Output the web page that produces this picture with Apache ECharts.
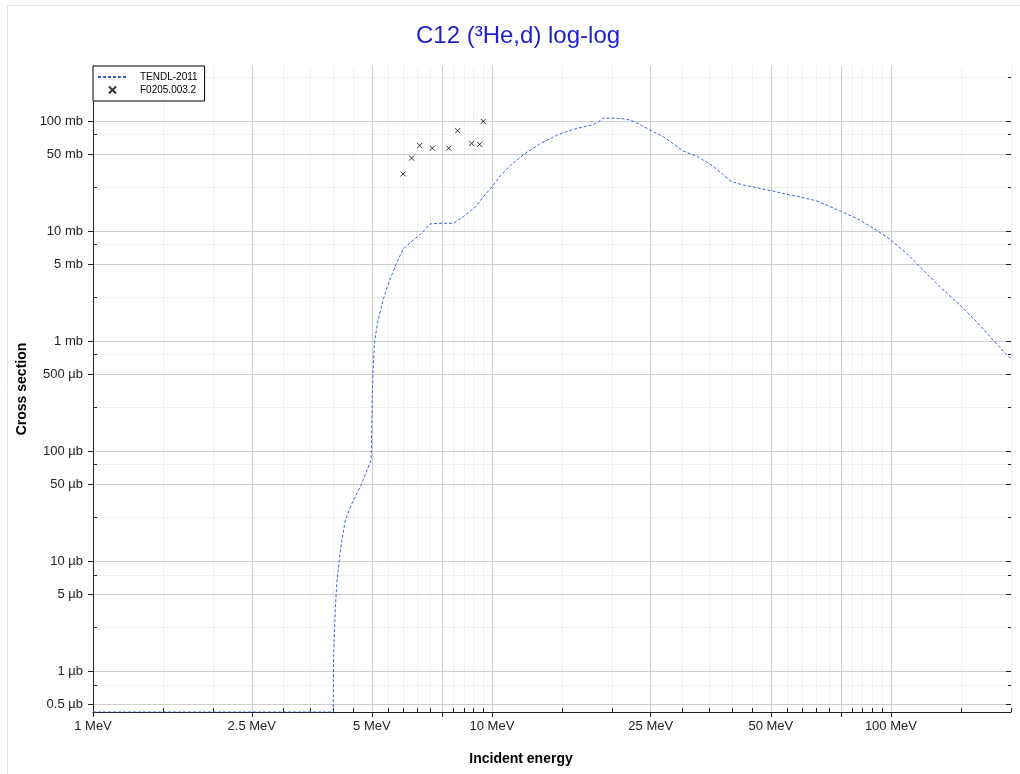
<!DOCTYPE html>
<html><head><meta charset="utf-8">
<script src="https://cdn.jsdelivr.net/npm/echarts@6/dist/echarts.min.js"></script>
<style>html,body{margin:0;padding:0;background:#fff}#c{width:1020px;height:774px}</style>
</head><body><div id="c"></div>
<script>
// TENDL-2011 evaluation: incident energy (MeV) and cross section (mb); 0 = below plotted range
const tendlEnergy = [1.0, 4.0, 4.01, 4.05, 4.09, 4.17, 4.29, 4.46, 4.72, 4.98, 5.01, 5.03, 5.08, 5.18, 5.33, 5.54, 5.76, 5.99, 6.35, 6.66, 6.99, 7.41, 8.01, 8.48, 9.08, 9.53, 10.0, 10.5, 11.1, 12.0, 13.2, 14.5, 16.0, 18.0, 18.5, 19.0, 20.2, 21.3, 22.2, 23.5, 24.9, 26.9, 30.2, 32.6, 35.8, 38.0, 39.8, 42.6, 46.0, 50.0, 54.7, 60.3, 65.1, 70.3, 75.2, 82.0, 90.4, 99.5, 109.5, 120.6, 132.9, 149.1, 164.2, 180.8, 197.2, 200.0];
const tendlXs = [0, 0, 0.00135, 0.0038, 0.0067, 0.0126, 0.0236, 0.0335, 0.0508, 0.083, 0.284, 0.5, 1.0, 1.53, 2.34, 3.56, 5.06, 6.85, 8.27, 9.5, 11.6, 11.75, 11.75, 13.5, 16.5, 20.6, 25.1, 31.8, 39.3, 49.5, 62, 74, 83.9, 93.2, 98, 106, 106, 105, 102, 93.2, 82.7, 71.9, 53.2, 47.9, 39.0, 32.4, 28.2, 26.2, 24.8, 23.3, 21.6, 20.1, 18.8, 16.7, 15.0, 13.05, 10.6, 8.4, 6.26, 4.41, 3.1, 2.11, 1.49, 1.01, 0.72, 0.70];
// EXFOR F0205.003.2
const expEnergy = [5.99, 6.29, 6.59, 7.09, 7.79, 8.2, 8.9, 9.31, 9.51];
const expXs = [33, 46, 59.8, 56.6, 56.6, 81.6, 62.5, 61.3, 99.3];

// axis ticks (MeV / mb)
const xLabelValues = [1, 2.5, 5, 10, 25, 50, 100];
const xMajorTicks = [1, 2.5, 5, 7.5, 10, 25, 50, 75, 100];
const xMinorMultipliers = [1, 1.5, 2, 2.5, 3, 3.5, 4, 4.5, 5, 5.5, 6, 6.5, 7, 7.5, 8, 8.5, 9, 9.5];
const xDecades = [1, 10, 100];
const yLabelValues = [0.0005, 0.001, 0.005, 0.01, 0.05, 0.1, 0.5, 1, 5, 10, 50, 100];
const yMinorMultipliers = [1, 2.5, 5, 7.5];
const yDecades = [0.0001, 0.001, 0.01, 0.1, 1, 10, 100];

const X_MIN_E = 1, X_MAX_E = 200;
const Y_MIN_XS = 0.000424, Y_MAX_XS = 316.2;

const L = Math.log10;
const xMin = L(X_MIN_E), xMax = L(X_MAX_E), yMin = L(Y_MIN_XS), yMax = L(Y_MAX_XS);
const xMinor = [];
xDecades.forEach(d => xMinorMultipliers.forEach(m => { const v = d * m; if (v <= X_MAX_E) xMinor.push(L(v)); }));
xMinor.push(L(200));
const yMinor = [];
yDecades.forEach(d => yMinorMultipliers.forEach(m => { const v = d * m; if (v >= Y_MIN_XS && v <= Y_MAX_XS) yMinor.push(L(v)); }));

const FONT = 'Liberation Sans, Arial, sans-serif';
const fmtX = v => parseFloat(Math.pow(10, v).toPrecision(3)) + ' MeV';
const fmtY = v => { const s = Math.pow(10, v); return s >= 0.999 ? parseFloat(s.toPrecision(3)) + ' mb' : parseFloat((s * 1000).toPrecision(3)) + ' µb'; };

const lineData = tendlEnergy.map((e, i) => [L(e), tendlXs[i] > 0 ? L(tendlXs[i]) : yMin]);
const expData = expEnergy.map((e, i) => [L(e), L(expXs[i])]);

const AX = '#222';
const gridBox = { left: 93, right: 9, top: 66, bottom: 62 };
const chart = echarts.init(document.getElementById('c'), null, { renderer: 'canvas' });
chart.setOption({
  animation: false,
  textStyle: { fontFamily: FONT },
  title: { text: 'C12 (³He,d) log-log', left: 411, top: 19,
    textStyle: { color: '#1f1fcc', fontSize: 24, fontWeight: 'normal', fontFamily: FONT } },
  graphic: [{ type: 'rect', shape: { x: 7.5, y: 5.5, width: 1030, height: 800 }, style: { fill: 'none', stroke: '#e4e4e4', lineWidth: 1 }, silent: true, z: -10 }],
  grid: [Object.assign({}, gridBox), Object.assign({}, gridBox)],
  legend: {
    left: 93, top: 66, orient: 'vertical', backgroundColor: '#fff', borderColor: '#000', borderWidth: 1,
    padding: [6, 7, 5, 4], itemWidth: 29, itemHeight: 7, itemGap: 2,
    textStyle: { fontSize: 10, color: '#000', fontFamily: FONT, padding: [0, 0, 0, 8] },
    data: ['TENDL-2011', 'F0205.003.2']
  },
  xAxis: [
    { gridIndex: 0, type: 'value', min: xMin, max: xMax, z: 1, position: 'bottom',
      name: 'Incident energy', nameLocation: 'middle', nameGap: 40,
      nameTextStyle: { fontWeight: 'bold', fontSize: 14, color: '#000', padding: [0, 62, 0, 0] },
      axisLine: { onZero: false, lineStyle: { color: AX, width: 1 } },
      axisTick: { customValues: xMajorTicks.map(L), length: 5, lineStyle: { color: AX } },
      axisLabel: { customValues: xLabelValues.map(L), formatter: fmtX, fontSize: 13, color: AX, margin: 8 },
      splitLine: { show: true, lineStyle: { color: '#cdcdcd', width: 1 } } },
    { gridIndex: 1, type: 'value', min: xMin, max: xMax, z: 0, position: 'bottom',
      axisLine: { show: false, onZero: false },
      axisTick: { customValues: xMinor, inside: true, length: 4, lineStyle: { color: AX } },
      axisLabel: { show: false },
      splitLine: { show: true, lineStyle: { color: '#efefef', width: 1 } } }
  ],
  yAxis: [
    { gridIndex: 0, type: 'value', min: yMin, max: yMax, z: 1, position: 'left',
      name: 'Cross section', nameLocation: 'middle', nameGap: 56,
      nameTextStyle: { fontWeight: 'bold', fontSize: 14, color: '#000' },
      axisLine: { show: true, onZero: false, lineStyle: { color: AX, width: 1 } },
      axisTick: { show: true, customValues: yLabelValues.map(L), length: 5, lineStyle: { color: AX } },
      axisLabel: { customValues: yLabelValues.map(L), formatter: fmtY, fontSize: 13, color: AX, margin: 10 },
      splitLine: { show: true, lineStyle: { color: '#cdcdcd', width: 1 } } },
    { gridIndex: 1, type: 'value', min: yMin, max: yMax, z: 0, position: 'left',
      axisLine: { show: false, onZero: false },
      axisTick: { show: true, customValues: yMinor, inside: true, length: 4, lineStyle: { color: AX } },
      axisLabel: { show: false },
      splitLine: { show: true, lineStyle: { color: '#efefef', width: 1 } } },
    { gridIndex: 0, type: 'value', min: yMin, max: yMax, z: 1, position: 'right',
      axisLine: { show: false, onZero: false },
      axisTick: { show: true, customValues: yLabelValues.map(L), inside: true, length: 5, lineStyle: { color: AX } },
      axisLabel: { show: false }, splitLine: { show: false } },
    { gridIndex: 1, type: 'value', min: yMin, max: yMax, z: 0, position: 'right',
      axisLine: { show: false, onZero: false },
      axisTick: { show: true, customValues: yMinor, inside: true, length: 3, lineStyle: { color: AX } },
      axisLabel: { show: false }, splitLine: { show: false } }
  ],
  series: [
    { name: 'TENDL-2011', type: 'line', xAxisIndex: 0, yAxisIndex: 0, data: lineData,
      showSymbol: false, symbol: 'none', clip: true,
      lineStyle: { color: '#3a62e0', width: 1, type: [3, 2] }, itemStyle: { color: 'rgba(0,0,0,0)' } },
    { name: 'F0205.003.2', type: 'scatter', xAxisIndex: 0, yAxisIndex: 0, data: expData,
      symbol: 'path://M0,0L10,10M10,0L0,10', symbolSize: 5,
      itemStyle: { color: 'none', borderColor: '#000', borderWidth: 1 } }
  ]
});
</script></body></html>
